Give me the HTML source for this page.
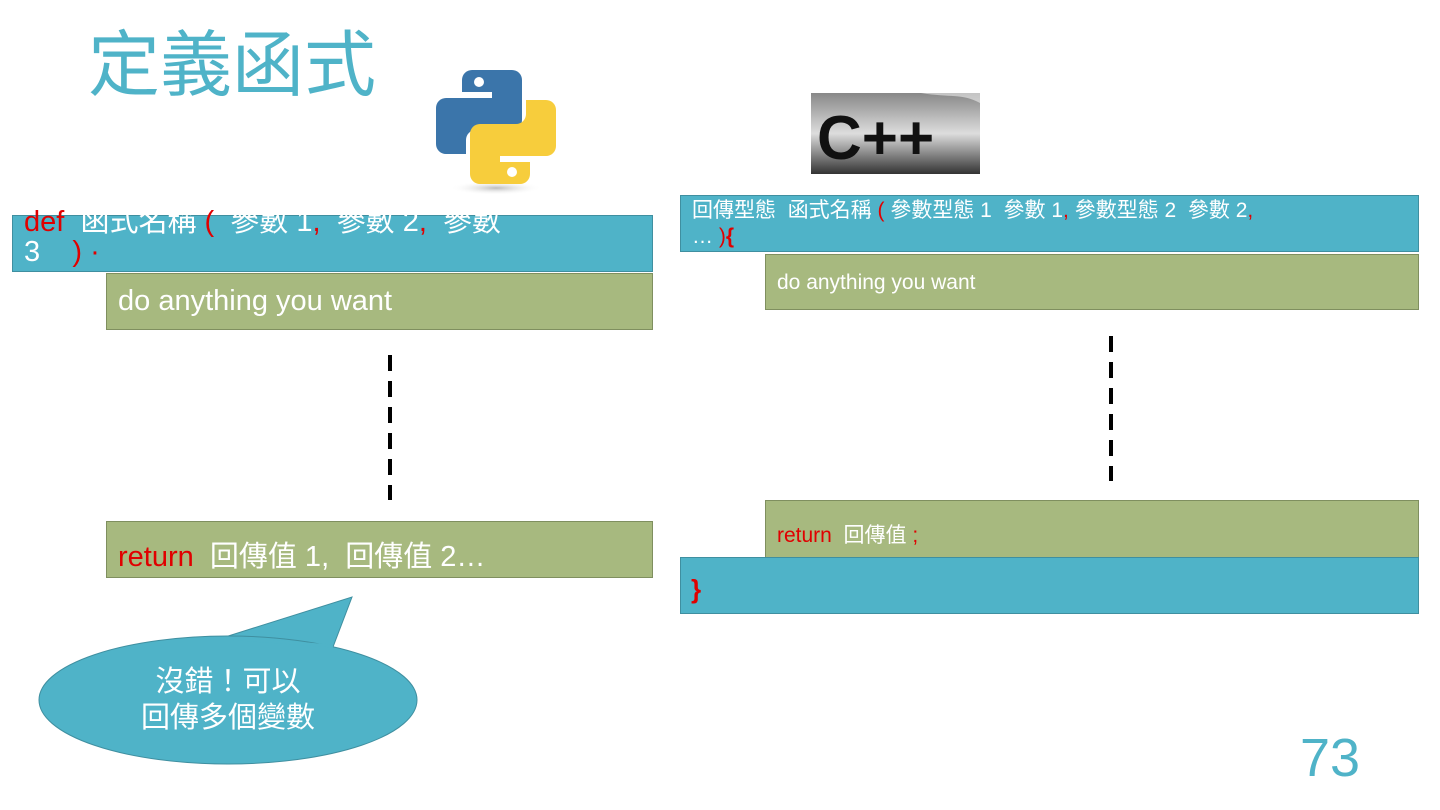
<!DOCTYPE html>
<html><head><meta charset="utf-8"><style>
body{margin:0;width:1440px;height:810px;background:#fff;position:relative;overflow:hidden;font-family:"Liberation Sans","Noto Sans CJK TC",sans-serif;}
.b{position:absolute;box-sizing:border-box;}
.blue{background:#4fb3c8;border:1px solid #3f8fa0;}
.ol{background:#a7b97f;border:1px solid #7f8f5f;}
.t{position:absolute;color:#fff;white-space:nowrap;}
.r{color:#e00000;}
</style></head><body>
<div class="t" style="left:88px;top:30px;font-size:72px;color:#4fb3c8;line-height:1;">定義函式</div>

<svg style="position:absolute;left:432px;top:66px" width="128" height="130" viewBox="0 0 128 130">
<defs><radialGradient id="sh" cx="50%" cy="50%" r="50%"><stop offset="0" stop-color="#bbb"/><stop offset="1" stop-color="#fff" stop-opacity="0"/></radialGradient></defs>
<ellipse cx="64" cy="122" rx="46" ry="7" fill="url(#sh)"/>
<path d="M40 4 h40 a10 10 0 0 1 10 10 v40 a10 10 0 0 1 -10 10 h-36 a10 10 0 0 0 -10 10 v14 h-20 a10 10 0 0 1 -10 -10 v-36 a10 10 0 0 1 10 -10 h46 v-6 h-30 v-12 a10 10 0 0 1 10 -10z" fill="#3b75aa"/>
<circle cx="47" cy="16" r="5" fill="#fff"/>
<path d="M88 118 h-40 a10 10 0 0 1 -10 -10 v-40 a10 10 0 0 1 10 -10 h36 a10 10 0 0 0 10 -10 v-14 h20 a10 10 0 0 1 10 10 v36 a10 10 0 0 1 -10 10 h-46 v6 h30 v12 a10 10 0 0 1 -10 10z" fill="#f7cd3c"/>
<circle cx="80" cy="106" r="5" fill="#fff"/>
</svg>

<svg style="position:absolute;left:811px;top:93px" width="169" height="81" viewBox="0 0 169 81">
<defs><linearGradient id="cg" x1="0" y1="0" x2="0" y2="1"><stop offset="0" stop-color="#888"/><stop offset="0.5" stop-color="#ddd"/><stop offset="1" stop-color="#333"/></linearGradient></defs>
<rect width="169" height="81" fill="url(#cg)"/>
<path d="M0 0 h110 C140 5 150 0 169 10 V0z" fill="#fff" opacity="0.5"/>
<text x="6" y="66" font-family="Liberation Sans" font-weight="bold" font-size="62" fill="#111">C++</text>
</svg>

<div class="b blue" style="left:12px;top:215px;width:641px;height:57px;"></div>
<div class="t" style="left:24px;top:207px;font-size:29px;line-height:30px;"><span class="r">def</span>&nbsp; 函式名稱 <span class="r">(</span>&nbsp; 參數 1<span class="r">,</span>&nbsp; 參數 2<span class="r">,</span>&nbsp; 參數<br>3&nbsp;&nbsp;&nbsp; <span class="r">)&nbsp;·</span></div>
<div class="b ol" style="left:106px;top:273px;width:547px;height:57px;"></div>
<div class="t" style="left:118px;top:285px;font-size:29px;">do anything you want</div>

<div class="b ol" style="left:106px;top:521px;width:547px;height:57px;"></div>
<div class="t" style="left:118px;top:533px;font-size:29px;"><span class="r">return</span>&nbsp; 回傳值 1,&nbsp; 回傳值 2…</div>

<svg style="position:absolute;left:0;top:0" width="1440" height="810">
<line x1="390" y1="355" x2="390" y2="500" stroke="#000" stroke-width="4" stroke-dasharray="16,10"/>
<line x1="1111" y1="336" x2="1111" y2="481" stroke="#000" stroke-width="4" stroke-dasharray="16,10"/>
<path d="M225 637 L352 597 L333 647 Z" fill="#4fb3c8" stroke="#3f8fa0"/>
<ellipse cx="228" cy="700" rx="189" ry="64" fill="#4fb3c8" stroke="#3f8fa0"/>
<path d="M226 638 L333 646" stroke="#4fb3c8" stroke-width="3"/>
</svg>
<div class="t" style="left:0;width:456px;text-align:center;top:664px;font-size:29px;line-height:36px;">沒錯！可以<br>回傳多個變數</div>

<div class="b blue" style="left:680px;top:195px;width:739px;height:57px;"></div>
<div class="t" style="left:692px;top:198px;font-size:21px;line-height:26px;">回傳型態&nbsp; 函式名稱 <span class="r">(</span> 參數型態 1&nbsp; 參數 1<span class="r">,</span> 參數型態 2&nbsp; 參數 2<span class="r">,</span><br>…&nbsp;<span class="r">)<b>{</b></span></div>
<div class="b ol" style="left:765px;top:254px;width:654px;height:56px;"></div>
<div class="t" style="left:777px;top:271px;font-size:21px;">do anything you want</div>

<div class="b ol" style="left:765px;top:500px;width:654px;height:58px;"></div>
<div class="t" style="left:777px;top:519px;font-size:21px;"><span class="r">return</span>&nbsp; 回傳值 <span class="r">;</span></div>
<div class="b blue" style="left:680px;top:557px;width:739px;height:57px;"></div>
<div class="t r" style="left:691px;top:574px;font-size:26px;font-weight:bold;">}</div>

<div class="t" style="left:1300px;top:727px;font-size:54px;color:#4fb3c8;">73</div>
</body></html>
